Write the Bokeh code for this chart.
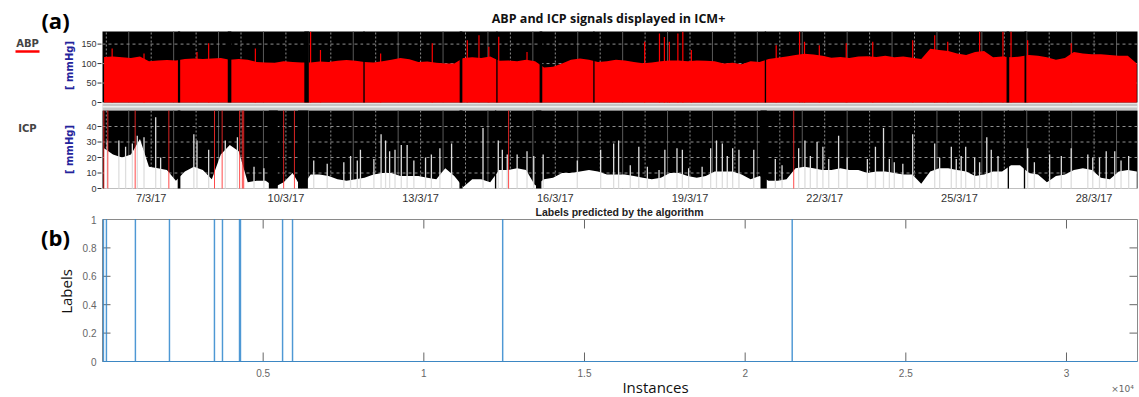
import numpy as np
from math import pi
from bokeh.plotting import figure
from bokeh.models import Range1d
from bokeh.core.properties import value
from bokeh.embed import file_html
from bokeh.resources import INLINE

# ------------------------------------------------------------------ data
# sampling grid (days of March 2017), one reading every 0.2 day
sample_days = np.round(np.arange(5.95, 28.96, 0.2), 2)

abp_mmhg = [117, 118, 116, 114, 118, 106, 108, 109, 108, 112, 113, 112, 113, 114, 110,
            112, 110, 104, 103, 102, 106, 104, 103, 103, 105, 104, 107, 109, 107,
            104, 103, 106, 110, 114, 111, 104, 105, 102, 100, 100, 114, 116, 114, 118,
            107, 108, 106, 110, 106, 90, 92, 100, 110, 113, 110, 104, 106, 110,
            108, 104, 101, 103, 106, 108, 108, 106, 108, 107, 106, 100, 102, 98, 106,
            104, 112, 115, 118, 122, 125, 123, 120, 115, 117, 114, 118, 119, 117,
            120, 116, 118, 115, 112, 138, 135, 132, 126, 122, 130, 132, 116, 118, 116,
            118, 122, 120, 116, 110, 114, 130, 126, 124, 124, 122, 120, 120, 100]

abp_spike_days = [6.13, 6.84, 8.02, 8.28, 9.32, 10.55, 10.77, 12.11, 13.26, 14.04, 14.30,
                  14.52, 14.74, 15.37, 17.99, 18.32, 18.43, 18.54, 18.73, 18.84, 19.03,
                  20.92, 21.44, 21.55, 21.88, 22.48, 23.07, 23.96, 24.45, 24.74, 25.45,
                  25.97, 26.15, 26.52, 27.49]
abp_spike_mmhg = [139, 126, 130, 152, 139, 182, 135, 126, 152, 160, 173,
                  143, 169, 130, 156, 177, 168, 156, 177, 182, 135,
                  147, 182, 156, 147, 152, 156, 160, 173, 156, 182,
                  182, 182, 160, 152]

abp_gap_days = [7.62, 8.745, 10.46, 11.74, 13.90, 14.70, 15.68, 16.86, 20.68, 26.08, 26.47]
abp_gap_widths = [0.05, 0.08, 0.10, 0.03, 0.06, 0.03, 0.06, 0.03, 0.03, 0.06, 0.04]

icp_mmhg = [26, 22, 20, 22, 32, 14, 13, 12, 5, 11, 14, 12, 6, 22, 28,
            24, 4, 5, 5, 1, 4, 10, 0, 9, 9, 8, 6, 5, 6,
            7, 9, 10, 10, 8, 8, 8, 7, 6, 13, 8, 1, 6, 6, 4,
            12, 12, 13, 12, 2, 6, 7, 10, 10, 11, 12, 11, 9, 9,
            9, 8, 7, 6, 7, 10, 10, 8, 7, 8, 11, 11, 11, 9, 6,
            8, 5, 5, 6, 13, 14, 13, 12, 12, 13, 12, 12, 10, 11,
            11, 10, 9, 9, 3, 11, 13, 13, 12, 11, 8, 9, 11, 11, 15,
            15, 10, 9, 4, 8, 9, 12, 13, 12, 7, 6, 11, 12, 11]

icp_spike_days = [6.02, 6.28, 6.43, 6.58, 6.69, 6.84, 7.10, 7.21, 7.95, 8.02, 8.28, 8.65,
                  8.92, 9.29, 9.51, 10.62, 10.92, 11.29, 11.44, 11.59,
                  11.66, 11.96, 12.12, 12.22, 12.31, 12.43, 12.57, 12.70, 12.85, 13.11,
                  13.24, 13.43, 13.69, 14.39, 14.73, 14.82, 14.93, 15.15, 15.37, 15.52,
                  15.73, 16.49, 17.01, 17.30, 17.41,
                  17.67, 17.86, 18.05, 18.31, 18.44, 18.71, 18.83, 18.97, 19.27, 19.46,
                  19.59, 19.72, 19.83, 19.95, 20.09, 20.42, 20.90, 21.05, 21.42, 21.56,
                  21.68, 21.83, 21.96, 22.09, 22.31, 22.50, 22.95, 23.13,
                  23.31, 23.44, 23.55, 23.74, 23.96, 24.45, 24.56, 24.82, 24.93, 25.04,
                  25.14, 25.34, 25.45, 25.61, 25.71, 25.86, 26.52, 26.67, 27.01, 27.27,
                  27.49, 27.86, 27.97, 28.12, 28.27, 28.46, 28.60, 28.77]
icp_spike_mmhg = [31, 31, 27, 29, 34, 33, 46, 20, 35, 31, 25, 31,
                  33, 14, 13, 18, 16, 17, 21, 18,
                  25, 19, 35, 31, 24, 25, 28, 28, 18, 20,
                  22, 26, 29, 39, 31, 25, 22, 22, 24, 21,
                  22, 18, 25, 29, 31,
                  15, 27, 14, 12, 25, 26, 25, 13, 14, 26,
                  31, 29, 21, 26, 25, 25, 19, 15, 26, 31,
                  21, 30, 27, 19, 34, 20, 19, 27,
                  39, 19, 17, 16, 35, 29, 20, 27, 19, 21,
                  27, 20, 17, 33, 25, 21, 26, 17, 22, 21,
                  26, 22, 20, 20, 24, 24, 18, 21]

icp_gap_days = [7.62, 9.72, 10.38, 13.90, 14.67, 15.63, 20.64, 26.09, 26.45]
icp_gap_widths = [0.06, 0.20, 0.22, 0.07, 0.03, 0.12, 0.14, 0.03, 0.03]

artefact_days = [5.945, 6.034, 6.643, 7.393, 8.41, 8.58, 8.97, 9.03, 9.06, 9.95, 10.19,
                 14.96, 21.31]

date_tick_days = [7, 10, 13, 16, 19, 22, 25, 28]
date_tick_labels = ["7/3/17", "10/3/17", "13/3/17", "16/3/17", "19/3/17", "22/3/17",
                    "25/3/17", "28/3/17"]
abp_ticks = [0, 50, 100, 150]
abp_tick_labels = ["0", "50", "100", "150"]
icp_ticks = [0, 10, 20, 30, 40]
icp_tick_labels = ["0", "10", "20", "30", "40"]

label_instances = [25, 118, 1020, 2080, 3480, 3730, 4260, 4290, 5600, 5910, 12450, 21460]
instance_max = 32210
instance_ticks = [5000, 10000, 15000, 20000, 25000, 30000]
instance_tick_labels = ["0.5", "1", "1.5", "2", "2.5", "3"]
label_ticks = [0, 0.2, 0.4, 0.6, 0.8, 1]
label_tick_labels = ["0", "0.2", "0.4", "0.6", "0.8", "1"]

# ------------------------------------------------------------------ page geometry
W, H = 1139, 397
FL, FR = 102, 1137                  # left / right edge of every panel
A_TOP, A_BOT, A_PX = 31, 102, 0.3893  # ABP panel (px per mmHg)
B_TOP, B_BOT, B_PX = 110, 188, 1.55   # ICP panel
C_TOP, C_BOT = 219, 361               # labels panel


def xd(X):  # page pixel -> day
    return 7 + (X - 150.7) / 44.9


def xc(X):  # page pixel -> instance
    return (X - FL) * instance_max / (FR - FL)


def ya(Y):
    return (A_BOT - Y) / A_PX


def yb(Y):
    return (B_BOT - Y) / B_PX


def yc(Y):
    return (C_BOT - Y) / (C_BOT - C_TOP)


DAY0, DAY1 = xd(FL), xd(FR)
ABP_TOP = ya(A_TOP)
ICP_TOP = yb(B_TOP)

# one canvas; every panel gets its own data ranges mapped onto its region
p = figure(width=W, height=H, x_range=Range1d(0, W), y_range=Range1d(H, 0),
           output_backend="svg", toolbar_location=None,
           x_axis_location=None, y_axis_location=None,
           min_border_left=0, min_border_right=0, min_border_top=0, min_border_bottom=0,
           background_fill_color="white", border_fill_color="white",
           outline_line_color=None)
p.grid.visible = False
p.extra_x_ranges = {"day": Range1d(xd(0), xd(W)), "inst": Range1d(xc(0), xc(W))}
p.extra_y_ranges = {"abp": Range1d(ya(H), ya(0)), "icp": Range1d(yb(H), yb(0)),
                    "lab": Range1d(yc(H), yc(0))}


def txt(x, y, s, size, color="#111111", font="Liberation Sans", style="normal",
        align="center", baseline="middle", angle=0.0, xr="default", yr="default"):
    p.text(x=x, y=y, text=s, text_font=value(font), text_font_size=f"{size}px",
           text_font_style=style, text_color=color, text_align=align,
           text_baseline=baseline, angle=angle, x_range_name=xr, y_range_name=yr)


half_days = [d + 0.5 for d in range(5, 29) if DAY0 < d + 0.5 < DAY1]
whole_days = [d for d in range(5, 30) if DAY0 < d < DAY1]

# ------------------------------------------------------------------ ICM+ panels
p.quad(left=FL, right=FR, top=A_TOP, bottom=A_BOT, fill_color="black", line_color=None)
p.quad(left=FL, right=FR, top=B_TOP, bottom=B_BOT, fill_color="black", line_color=None)
p.quad(left=FL, right=FR, top=103, bottom=109.5, fill_color="#c6c6c6", line_color=None)
p.quad(left=FL, right=FR, top=105.5, bottom=107, fill_color="#eeeeee", line_color=None)

for yr, top, ticks in (("abp", ABP_TOP, abp_ticks), ("icp", ICP_TOP, icp_ticks)):
    p.segment(x0=half_days, y0=0, x1=half_days, y1=top, line_color="#5a5a5a",
              line_width=1, x_range_name="day", y_range_name=yr)
    p.segment(x0=whole_days, y0=0, x1=whole_days, y1=top, line_color="#8e8e8e",
              line_width=1, line_dash="2 2", x_range_name="day", y_range_name=yr)
    p.segment(x0=DAY0, y0=ticks[1:], x1=DAY1, y1=ticks[1:], line_color="#8e8e8e",
              line_width=1, line_dash="3 3", x_range_name="day", y_range_name=yr)

# ABP
p.varea(x=sample_days, y1=0, y2=abp_mmhg, fill_color="#ff0000",
        x_range_name="day", y_range_name="abp")
p.segment(x0=abp_spike_days, y0=0, x1=abp_spike_days, y1=abp_spike_mmhg,
          line_color="#ff0000", line_width=1.2, x_range_name="day", y_range_name="abp")
p.vbar(x=abp_gap_days, width=abp_gap_widths, top=ABP_TOP, bottom=0,
       fill_color="black", line_color=None, x_range_name="day", y_range_name="abp")

# ICP
p.varea(x=sample_days, y1=0, y2=icp_mmhg, fill_color="white",
        x_range_name="day", y_range_name="icp")
p.segment(x0=icp_spike_days, y0=0, x1=icp_spike_days, y1=icp_spike_mmhg,
          line_color="#dedede", line_width=1.3, x_range_name="day", y_range_name="icp")
p.vbar(x=icp_gap_days, width=icp_gap_widths, top=ICP_TOP, bottom=0,
       fill_color="black", line_color=None, x_range_name="day", y_range_name="icp")
p.segment(x0=artefact_days, y0=0, x1=artefact_days, y1=ICP_TOP,
          line_color="#ff2a2a", line_alpha=0.85, line_width=1,
          x_range_name="day", y_range_name="icp")

# y ticks and labels of the two ICM+ panels
for yr, ticks, labels in (("abp", abp_ticks, abp_tick_labels),
                          ("icp", icp_ticks, icp_tick_labels)):
    p.segment(x0=97, y0=ticks, x1=101, y1=ticks, line_color="#333333", line_width=1,
              y_range_name=yr)
    txt([96] * len(ticks), ticks, labels, 9, color="#333333", align="right", yr=yr)

# date labels
txt(date_tick_days, [197] * len(date_tick_days), date_tick_labels, 11,
    color="#333333", xr="day")

# ICM+ texts
txt([55], [19], ["(a)"], 22, color="#000000", font="Open Sans", style="bold")
txt([608], [18], ["ABP and ICP signals displayed in ICM+"], 12.5, color="#111111",
    font="Open Sans", style="bold")
txt([27], [43], ["ABP"], 10, color="#444444", font="DejaVu Sans", style="bold")
p.segment(x0=15, y0=51, x1=39, y1=51, line_color="#ff0000", line_width=2.5)
txt([69], [65], ["[ mmHg]"], 10, color="#23239b", font="DejaVu Sans", style="bold",
    angle=pi / 2)
txt([27], [128], ["ICP"], 10, color="#444444", font="DejaVu Sans", style="bold")
txt([69], [149], ["[ mmHg]"], 10, color="#23239b", font="DejaVu Sans", style="bold",
    angle=pi / 2)

# ------------------------------------------------------------------ labels panel (b)
tick_len_y = 9 / (C_BOT - C_TOP)
tick_len_x = 8 * instance_max / (FR - FL)
inner = label_ticks[1:-1]
p.segment(x0=instance_ticks, y0=0, x1=instance_ticks, y1=tick_len_y,
          line_color="#666666", x_range_name="inst", y_range_name="lab")
p.segment(x0=instance_ticks, y0=1, x1=instance_ticks, y1=1 - tick_len_y,
          line_color="#666666", x_range_name="inst", y_range_name="lab")
p.segment(x0=0, y0=inner, x1=tick_len_x, y1=inner,
          line_color="#666666", x_range_name="inst", y_range_name="lab")
p.segment(x0=instance_max, y0=inner, x1=instance_max - tick_len_x, y1=inner,
          line_color="#666666", x_range_name="inst", y_range_name="lab")
p.quad(left=0, right=instance_max, bottom=0, top=1, fill_color=None,
       line_color="#8a8a8a", line_width=1, x_range_name="inst", y_range_name="lab")

xs, ys = [0], [0]
for s in label_instances:
    xs += [s, s, s + 8, s + 8]
    ys += [0, 1, 1, 0]
xs.append(instance_max)
ys.append(0)
p.line(xs, ys, line_color="#2f86cc", line_width=1.2, line_alpha=0.85,
       x_range_name="inst", y_range_name="lab")

txt(instance_ticks, [372] * len(instance_ticks), instance_tick_labels, 10,
    color="#666666", xr="inst")
txt([96] * len(label_ticks), label_ticks, label_tick_labels, 10, color="#666666",
    align="right", yr="lab")

txt([55], [236], ["(b)"], 22, color="#000000", font="Open Sans", style="bold")
txt([619], [211], ["Labels predicted by the algorithm"], 10.5, color="#222222",
    style="bold")
txt([65], [291], ["Labels"], 15, color="#111111", font="Open Sans", angle=pi / 2)
txt([655], [386], ["Instances"], 15, color="#111111", font="Open Sans")
txt([1122], [388], ["\u00d710\u2074"], 9, color="#666666", font="DejaVu Sans")

open("out.html", "w").write(file_html(p, INLINE))
